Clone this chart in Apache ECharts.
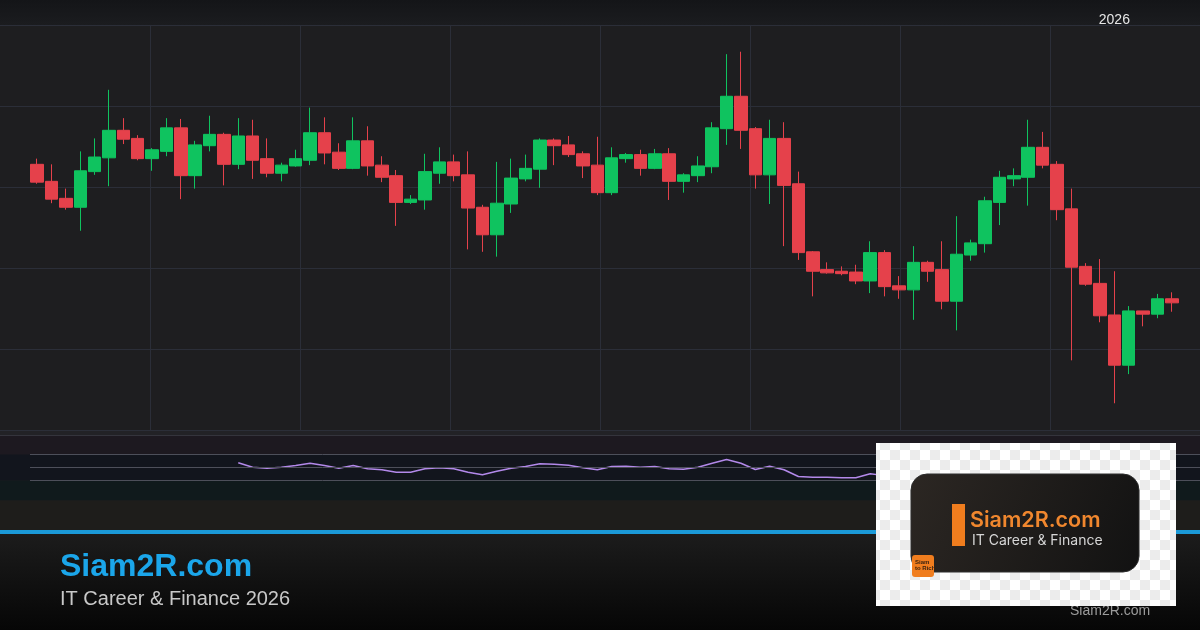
<!DOCTYPE html>
<html><head><meta charset="utf-8">
<script src="https://cdn.jsdelivr.net/npm/echarts@6/dist/echarts.min.js"></script>
<style>html,body{margin:0;padding:0;background:#1e1e20;}#c{width:1200px;height:630px;}</style>
</head><body><div id="c"></div>
<script>
const categories = [
'2025-09-16','2025-09-17','2025-09-18','2025-09-19','2025-09-22','2025-09-23','2025-09-24','2025-09-25','2025-09-26','2025-09-29',
'2025-09-30','2025-10-01','2025-10-02','2025-10-03','2025-10-06','2025-10-07','2025-10-08','2025-10-09','2025-10-10','2025-10-13',
'2025-10-14','2025-10-15','2025-10-16','2025-10-17','2025-10-20','2025-10-21','2025-10-22','2025-10-23','2025-10-24','2025-10-27',
'2025-10-28','2025-10-29','2025-10-30','2025-10-31','2025-11-03','2025-11-04','2025-11-05','2025-11-06','2025-11-07','2025-11-10',
'2025-11-11','2025-11-12','2025-11-13','2025-11-14','2025-11-17','2025-11-18','2025-11-19','2025-11-20','2025-11-21','2025-11-24',
'2025-11-25','2025-11-26','2025-11-28','2025-12-01','2025-12-02','2025-12-03','2025-12-04','2025-12-05','2025-12-08','2025-12-09',
'2025-12-10','2025-12-11','2025-12-12','2025-12-15','2025-12-16','2025-12-17','2025-12-18','2025-12-19','2025-12-22','2025-12-23',
'2025-12-24','2025-12-26','2025-12-29','2025-12-30','2025-12-31','2026-01-02','2026-01-05','2026-01-06','2026-01-07','2026-01-08'];

const opens = [
132.8,130.7,128.6,127.5,131.9,133.6,137.0,136.0,133.5,134.4,
137.3,131.4,135.1,136.5,132.8,136.3,133.5,131.7,132.6,133.3,
136.7,134.3,132.3,135.7,132.7,131.4,128.1,128.4,131.7,133.1,
131.5,127.5,124.1,127.9,131.0,132.2,135.8,135.2,134.1,132.7,
129.3,133.5,134.0,132.3,134.1,130.7,131.4,132.5,137.2,141.2,
137.2,131.5,136.0,130.4,122.0,119.8,119.6,119.5,118.4,121.9,
117.8,117.3,120.7,119.8,115.9,121.6,123.0,128.1,131.0,131.2,
134.9,132.8,127.3,120.2,118.1,114.2,108.0,114.7,114.3,116.2];

const closes = [
130.6,128.5,127.5,132.0,133.7,137.0,135.9,133.5,134.6,137.3,
131.4,135.2,136.5,132.8,136.3,133.3,131.7,132.7,133.5,136.7,
134.2,132.3,135.7,132.6,131.2,128.1,128.5,131.9,133.1,131.4,
127.4,124.1,128.0,131.1,132.3,135.8,135.1,134.0,132.6,129.3,
133.6,134.0,132.3,134.1,130.7,131.5,132.6,137.3,141.2,137.0,
131.5,136.0,130.2,121.9,119.6,119.4,119.3,118.4,121.9,117.7,
117.3,120.7,119.6,115.9,121.7,123.1,128.3,131.2,131.4,134.9,
132.7,127.2,120.1,118.0,114.1,108.0,114.7,114.3,116.2,115.7];

const lows = [
130.4,128.0,127.2,124.6,131.5,130.1,135.3,133.3,132.0,133.8,
128.5,129.8,134.4,130.2,132.2,131.0,131.2,130.7,132.5,132.7,
132.8,132.1,132.2,131.4,130.6,125.2,127.9,127.2,130.4,130.7,
122.3,122.0,121.4,126.8,130.7,129.9,132.7,133.7,131.1,129.0,
129.0,133.0,131.4,132.2,128.4,129.3,130.6,131.7,135.2,134.7,
129.8,127.9,122.7,121.0,116.5,119.3,119.1,118.0,116.9,116.5,
116.2,113.6,118.3,114.9,112.3,120.9,121.9,125.3,130.1,127.7,
132.3,125.9,108.6,117.8,113.3,103.3,106.9,112.8,113.8,114.6];

const highs = [
133.5,132.8,129.8,134.4,136.0,142.0,138.5,136.4,134.8,138.5,
138.4,135.7,138.8,136.7,138.5,138.3,136.0,133.0,134.6,139.8,
138.6,135.4,138.6,137.5,133.8,132.1,129.0,134.1,134.9,134.0,
134.4,127.8,133.1,133.5,134.0,136.0,136.0,136.3,134.4,136.2,
134.9,134.2,134.6,134.7,134.8,131.7,133.8,138.0,146.4,146.7,
137.4,138.3,138.0,131.9,122.1,120.7,120.2,120.4,123.3,122.2,
119.0,122.7,120.9,123.3,126.4,123.5,128.8,132.0,132.3,138.3,
136.8,133.2,129.8,120.6,121.1,119.6,115.3,114.7,116.8,117.0];

const rsiValues = [
null,null,null,null,null,null,null,null,null,null,null,null,null,null,
57.2,50.5,48.9,50.5,53.1,56.6,53.1,48.9,53.1,48.0,
46.5,42.8,42.8,48.0,49.5,48.0,42.8,38.8,44.3,48.9,
51.5,55.7,55.1,53.5,49.5,46.5,51.5,52.0,50.5,51.5,
48.0,47.4,50.5,56.6,62.3,56.6,46.9,52.0,46.5,36.2,
35.1,35.1,34.2,34.2,40.3,
37.5,40.1,36.8,41.2,39.4,35.6,42.7,44.9,50.3,54.1,55.0,60.2,57.4,47.8,38.6,36.1,32.4,26.8,38.5,38.0,41.6];

const rsiLevels = [30, 50, 70];
const yearMarks = { '2026-01-02': '2026' };
const priceTicks = { min: 100, max: 150, step: 10 };

const ohlc = categories.map((d, i) => [opens[i], closes[i], lows[i], highs[i]]);
const rsiData = rsiValues.map((v, i) => [i, v]);

const UP = '#0fc35f', DOWN = '#e5414b';
const BAND = 1149 / categories.length;

function checker() {
  const c = document.createElement('canvas');
  c.width = 20; c.height = 20;
  const g = c.getContext('2d');
  g.fillStyle = '#ffffff'; g.fillRect(0, 0, 20, 20);
  g.fillStyle = '#ececec'; g.fillRect(0, 0, 10, 10); g.fillRect(10, 10, 10, 10);
  return c;
}

const chart = echarts.init(document.getElementById('c'), null, { renderer: 'canvas' });
const FONT = '"Liberation Sans", Arial, sans-serif';

chart.setOption({
  backgroundColor: '#1e1e20',
  animation: false,
  grid: [
    { left: 0, right: 0, top: 25, height: 405 },
    { left: 30, width: 1149, top: 25, height: 405 },
    { left: 30, right: 0, top: 435, height: 65 }
  ],
  xAxis: [
    { gridIndex: 0, type: 'value', min: 0, max: 1200, interval: 150,
      axisLine: { show: false }, axisTick: { show: false }, axisLabel: { show: false },
      splitLine: { show: true, showMinLine: false, showMaxLine: false, lineStyle: { color: '#2b2e38', width: 1 } } },
    { gridIndex: 1, type: 'category', data: categories, boundaryGap: true, position: 'top',
      axisLine: { show: false }, axisTick: { show: false }, splitLine: { show: false },
      axisLabel: { show: true, interval: (idx, val) => val in yearMarks,
        formatter: (val) => yearMarks[val] || '', color: '#e6e6e6', fontSize: 14,
        fontFamily: FONT, margin: -2 } },
    { gridIndex: 2, type: 'value', min: -0.5, max: -0.5 + 1170 / BAND, show: false }
  ],
  yAxis: [
    { gridIndex: 0, type: 'value', min: priceTicks.min, max: priceTicks.max, interval: priceTicks.step,
      axisLine: { show: false }, axisTick: { show: false }, axisLabel: { show: false },
      splitLine: { show: true, lineStyle: { color: '#2b2e38', width: 1 } } },
    { gridIndex: 1, type: 'value', min: priceTicks.min, max: priceTicks.max, show: false, splitLine: { show: false } },
    { gridIndex: 2, type: 'value', min: 0, max: 100, show: false, splitLine: { show: false } }
  ],
  series: [
    { type: 'candlestick', xAxisIndex: 1, yAxisIndex: 1, data: ohlc, barWidth: 13,
      itemStyle: { color: UP, color0: DOWN, borderColor: UP, borderColor0: DOWN, borderWidth: 1 } },
    { type: 'line', xAxisIndex: 2, yAxisIndex: 2, data: rsiData, showSymbol: false,
      connectNulls: false, lineStyle: { color: '#b389ea', width: 1.5 },
      markLine: { silent: true, symbol: 'none', label: { show: false },
        lineStyle: { color: '#4d4f5a', type: 'solid', width: 1 },
        data: rsiLevels.map(v => ({ yAxis: v })) } }
  ],
  graphic: [
    { type: 'rect', z: -10, shape: { x: 0, y: 0, width: 1200, height: 25 },
      style: { fill: new echarts.graphic.LinearGradient(0, 0, 0, 1, [{ offset: 0, color: '#141518' }, { offset: 1, color: '#1b1c1f' }]) } },
    { type: 'rect', z: -10, shape: { x: 0, y: 430, width: 1200, height: 5 }, style: { fill: '#222226' } },
    { type: 'line', z: -9, shape: { x1: 0, y1: 435.5, x2: 1200, y2: 435.5 }, style: { stroke: '#34343c', lineWidth: 1 } },
    { type: 'rect', z: -10, shape: { x: 0, y: 436, width: 1200, height: 18.5 }, style: { fill: '#1d1920' } },
    { type: 'rect', z: -10, shape: { x: 0, y: 454.5, width: 1200, height: 26 }, style: { fill: '#12151d' } },
    { type: 'rect', z: -10, shape: { x: 0, y: 480.5, width: 1200, height: 20 }, style: { fill: '#101a1c' } },
    { type: 'rect', z: -10, shape: { x: 0, y: 500.5, width: 1200, height: 30 }, style: { fill: '#1e1d1b' } },
    { type: 'rect', z: -10, shape: { x: 0, y: 530, width: 1200, height: 4 }, style: { fill: '#1b9ad8' } },
    { type: 'rect', z: -10, shape: { x: 0, y: 534, width: 1200, height: 96 },
      style: { fill: new echarts.graphic.LinearGradient(0, 0, 0, 1, [{ offset: 0, color: '#1c1c1c' }, { offset: 1, color: '#060606' }]) } },
    { type: 'text', z: 50, x: 60, y: 567, style: { text: 'Siam2R.com', fill: '#1ba6ea', font: 'bold 32px ' + FONT, verticalAlign: 'middle' } },
    { type: 'text', z: 50, x: 60, y: 599.5, style: { text: 'IT Career & Finance 2026', fill: '#c8c8c8', font: '20px ' + FONT, verticalAlign: 'middle' } },
    { type: 'text', z: 50, x: 1070, y: 611, style: { text: 'Siam2R.com', fill: '#9c9c9c', font: '14px ' + FONT, verticalAlign: 'middle' } },
    { type: 'rect', z: 100, shape: { x: 876, y: 443, width: 300, height: 163 },
      style: { fill: { image: checker(), repeat: 'repeat' } } },
    { type: 'rect', z: 101, shape: { x: 911, y: 474, width: 228, height: 98, r: 16 },
      style: { fill: new echarts.graphic.LinearGradient(0, 0, 1, 1, [{ offset: 0, color: '#2c2723' }, { offset: 1, color: '#121212' }]),
        stroke: '#2e2e2e', lineWidth: 1 } },
    { type: 'rect', z: 102, shape: { x: 952, y: 504, width: 13, height: 42 }, style: { fill: '#f07d1e' } },
    { type: 'text', z: 102, x: 970, y: 521, style: { text: 'Siam2R.com', fill: '#f0872e', font: '600 21.5px Inter, "Open Sans", sans-serif', verticalAlign: 'middle' } },
    { type: 'text', z: 102, x: 972, y: 541, style: { text: 'IT Career & Finance', fill: '#d6d6d6', font: '14px Inter, "Open Sans", sans-serif', verticalAlign: 'middle' } },
    { type: 'rect', z: 102, shape: { x: 912, y: 555, width: 22, height: 22, r: 3 }, style: { fill: '#f07d1e' } },
    { type: 'text', z: 103, x: 915, y: 562, style: { text: 'Siam', fill: '#3a2210', font: 'bold 6px ' + FONT, verticalAlign: 'middle' } },
    { type: 'text', z: 103, x: 915, y: 568, style: { text: 'to Rich', fill: '#3a2210', font: 'bold 6px ' + FONT, verticalAlign: 'middle' } }
  ]
});
</script>
</body></html>
